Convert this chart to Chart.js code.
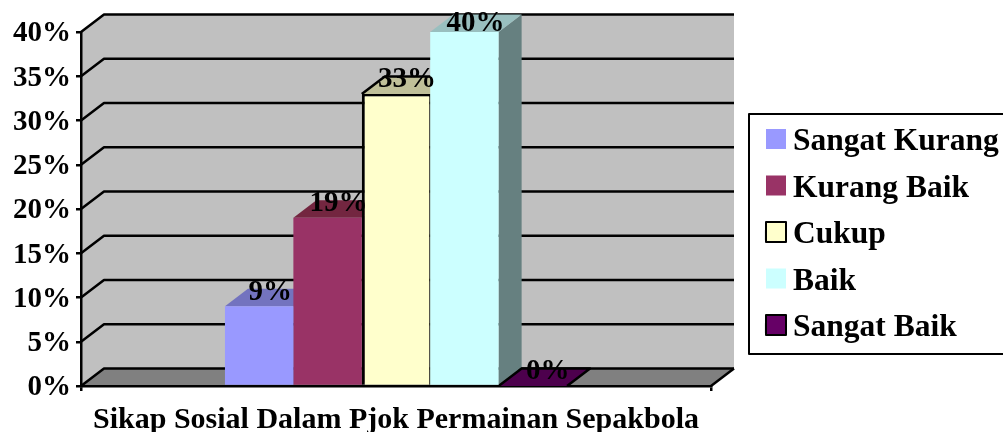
<!DOCTYPE html>
<html>
<head>
<meta charset="utf-8">
<style>html,body{margin:0;padding:0;background:#fff;overflow:hidden}canvas{display:block}</style>
<script src="https://cdn.jsdelivr.net/npm/chart.js@4/dist/chart.umd.min.js"></script>
</head>
<body>
<canvas id="c" width="1003" height="432" style="width:1003px;height:432px"></canvas>
<script>
const categories = ['Sikap Sosial Dalam Pjok Permainan Sepakbola'];
const seriesNames = ['Sangat Kurang', 'Kurang Baik', 'Cukup', 'Baik', 'Sangat Baik'];
const seriesValues = [9, 19, 33, 40, 0];
const seriesColors = ['#9999FF', '#993366', '#FFFFCC', '#CCFFFF', '#660066'];
const seriesTop = ['#7373BF', '#732640', '#BFBF99', '#99BFBF', '#4D004D'];
const seriesSide = ['#4D4D80', '#4D1A33', '#808066', '#668080', '#330033'];
const seriesBorder = [0, 0, 2, 0, 2];
const yMax = 40, yStep = 5;

const FONT = '"Liberation Serif","Times New Roman",serif';
const DX = 23, DY = -17.5;

function poly(ctx, pts, fill, stroke, lw) {
  ctx.beginPath();
  pts.forEach((p, i) => i ? ctx.lineTo(p[0], p[1]) : ctx.moveTo(p[0], p[1]));
  ctx.closePath();
  if (fill) { ctx.fillStyle = fill; ctx.fill(); }
  if (stroke) { ctx.strokeStyle = stroke; ctx.lineWidth = lw || 2; ctx.stroke(); }
}
function line(ctx, x1, y1, x2, y2) {
  ctx.beginPath(); ctx.moveTo(x1, y1); ctx.lineTo(x2, y2);
  ctx.strokeStyle = '#000'; ctx.lineWidth = 2.5; ctx.stroke();
}

const box3d = {
  id: 'box3d',
  afterLayout(chart) {
    const lg = chart.legend;
    const p = lg.options.labels.padding;
    lg.left = 766 - p; lg.right = lg.left + 300;
    lg.top = 111.5; lg.bottom = lg.top + lg.height;
    lg.adjustHitBoxes();
  },
  beforeDraw(chart) {
    const ctx = chart.ctx, a = chart.chartArea, y = chart.scales.y;
    const top = a.top, bot = a.bottom, l = a.left, r = a.right;
    poly(ctx, [[l, bot], [l, top], [l + DX, top + DY], [r + DX, top + DY], [r + DX, bot + DY], [l + DX, bot + DY]], '#C0C0C0');
    poly(ctx, [[l, bot], [l + DX, bot + DY], [r + DX, bot + DY], [r, bot]], '#808080');
    for (let v = 0; v <= yMax; v += yStep) {
      const py = y.getPixelForValue(v);
      ctx.beginPath();
      ctx.moveTo(l, py); ctx.lineTo(l + DX, py + DY); ctx.lineTo(r + DX, py + DY);
      ctx.strokeStyle = '#000'; ctx.lineWidth = 2.5; ctx.lineJoin = 'round'; ctx.stroke();
    }
    line(ctx, r, bot, r + DX, bot + DY);
  },
  beforeDatasetsDraw(chart) {
    const ctx = chart.ctx;
    chart.data.datasets.forEach((ds, i) => {
      const b = chart.getDatasetMeta(i).data[0];
      const x0 = b.x - b.width / 2, x1 = b.x + b.width / 2, yt = b.y, yb = b.base;
      if (yb > yt) poly(ctx, [[x1, yt], [x1 + DX, yt + DY], [x1 + DX, yb + DY], [x1, yb]], seriesSide[i]);
      poly(ctx, [[x0, yt], [x0 + DX, yt + DY], [x1 + DX, yt + DY], [x1, yt]], seriesTop[i]);
      if (seriesBorder[i]) {
        ctx.beginPath();
        ctx.moveTo(x0, yt); ctx.lineTo(x0 + DX, yt + DY); ctx.lineTo(x1 + DX, yt + DY);
        if (yb <= yt) ctx.lineTo(x1, yt);
        ctx.strokeStyle = '#000'; ctx.lineWidth = 2.5; ctx.stroke();
      }
    });
  },
  afterDatasetsDraw(chart) {
    const ctx = chart.ctx;
    ctx.save();
    ctx.font = 'bold 29px ' + FONT;
    ctx.fillStyle = '#000';
    ctx.textAlign = 'center';
    ctx.textBaseline = 'middle';
    chart.data.datasets.forEach((ds, i) => {
      const b = chart.getDatasetMeta(i).data[0];
      const ly = Math.max(b.y - 14, chart.chartArea.top - 8);
      ctx.fillText(seriesValues[i] + '%', b.x + 11 + (seriesValues[i] === 0 ? 4 : 0), ly);
    });
    ctx.restore();
  },
  afterDraw(chart) {
    const ctx = chart.ctx, lg = chart.legend, p = lg.options.labels.padding;
    ctx.save();
    ctx.strokeStyle = '#000'; ctx.lineWidth = 2;
    ctx.strokeRect(749, 114, 300, 240);
    seriesColors.forEach((c, i) => {
      const sx = lg.left + p, sy = lg.top + p + 2.5 + i * 46.5;
      ctx.fillStyle = c;
      ctx.fillRect(sx, sy, 20, 20);
      if (seriesBorder[i]) ctx.strokeRect(sx, sy, 20, 20);
    });
    ctx.restore();
  }
};

new Chart(document.getElementById('c'), {
  type: 'bar',
  plugins: [box3d],
  data: {
    labels: categories,
    datasets: seriesNames.map((n, i) => ({
      label: n,
      data: [seriesValues[i]],
      backgroundColor: seriesColors[i],
      borderColor: '#000',
      borderWidth: seriesBorder[i] ? { left: 3, top: 2.5, right: 1, bottom: 2 } : 0,
      categoryPercentage: 0.543,
      barPercentage: 1
    }))
  },
  options: {
    responsive: false,
    animation: false,
    events: [],
    layout: { padding: { top: 32, right: 55, left: 0, bottom: 0 } },
    plugins: {
      tooltip: { enabled: false },
      title: { display: false },
      legend: {
        position: 'right',
        align: 'start',
        labels: {
          font: { family: FONT, size: 31.5, weight: 'bold', lineHeight: 1 },
          color: '#000',
          boxWidth: 11.25,
          boxHeight: 8,
          padding: 15
        }
      }
    },
    scales: {
      x: {
        afterFit(s) { s.height = 46; },
        grid: { display: true, drawOnChartArea: false, tickLength: 5, color: '#000', lineWidth: 2.5 },
        border: { display: true, color: '#000', width: 2.5 },
        ticks: {
          autoSkip: false, maxRotation: 0, padding: 11, color: '#000',
          font: { family: FONT, size: 30, weight: 'bold' }
        }
      },
      y: {
        min: 0, max: yMax,
        afterFit(s) { s.width = 81; },
        grid: { display: true, drawOnChartArea: false, tickLength: 5, color: '#000', lineWidth: 2.5 },
        border: { display: true, color: '#000', width: 2.5 },
        ticks: {
          stepSize: yStep, padding: 5, labelOffset: 2, color: '#000',
          font: { family: FONT, size: 29, weight: 'bold' },
          callback: v => v + '%'
        }
      }
    }
  }
});
</script>
</body>
</html>
